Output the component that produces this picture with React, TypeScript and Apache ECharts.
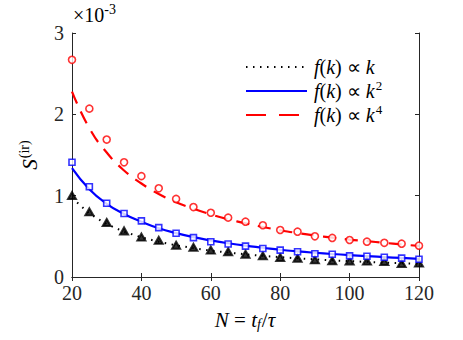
import React, { useEffect, useRef } from "react";
import * as echarts from "echarts";

const nValues = [20, 25, 30, 35, 40, 45, 50, 55, 60, 65, 70, 75, 80, 85, 90, 95, 100, 105, 110, 115, 120];
// scaled by 1e-3
const circlesK4 = [2.67, 2.07, 1.69, 1.41, 1.24, 1.09, 0.96, 0.86, 0.79, 0.73, 0.68, 0.636, 0.578, 0.557, 0.5, 0.48, 0.455, 0.434, 0.42, 0.41, 0.385];
const squaresK2 = [1.41, 1.11, 0.906, 0.78, 0.69, 0.607, 0.537, 0.484, 0.434, 0.406, 0.38, 0.35, 0.33, 0.31, 0.285, 0.28, 0.26, 0.256, 0.242, 0.232, 0.218];
const trianglesK = [1.0, 0.8, 0.67, 0.566, 0.49, 0.45, 0.39, 0.365, 0.33, 0.31, 0.28, 0.26, 0.24, 0.23, 0.21, 0.2, 0.197, 0.195, 0.19, 0.165, 0.17];
const lineK = [0.975, 0.78, 0.65, 0.557, 0.488, 0.433, 0.39, 0.355, 0.325, 0.3, 0.279, 0.26, 0.244, 0.229, 0.217, 0.205, 0.195, 0.186, 0.177, 0.17, 0.163];
const lineK2 = [1.34, 1.08, 0.9, 0.775, 0.68, 0.6, 0.54, 0.49, 0.45, 0.415, 0.385, 0.36, 0.335, 0.315, 0.298, 0.283, 0.27, 0.256, 0.245, 0.234, 0.224];
const lineK4 = [2.28, 1.83, 1.53, 1.31, 1.15, 1.02, 0.92, 0.84, 0.77, 0.71, 0.66, 0.615, 0.575, 0.54, 0.51, 0.485, 0.46, 0.44, 0.42, 0.4, 0.382];

const legendLabels = ["f(k) ∝ k", "f(k) ∝ k²", "f(k) ∝ k⁴"];

const SERIF = "Liberation Serif";
const AXIS = "#262626";

function pairs(ys: number[]) {
  return nValues.map((x, i) => [x, ys[i]]);
}

export default function App() {
  const ref = useRef<HTMLDivElement>(null);
  useEffect(() => {
    document.body.style.margin = "0";
    if (!ref.current) return;
    const chart = echarts.init(ref.current, undefined, { renderer: "svg" });
    const axisCommon = {
      axisLine: { show: true, lineStyle: { color: AXIS, width: 1 } },
      axisTick: { show: true, inside: true, length: 4, lineStyle: { color: AXIS } },
      splitLine: { show: false },
    };
    const legendRich = {
      it: { fontFamily: SERIF, fontStyle: "italic", fontSize: 20, color: "#000" },
      n: { fontFamily: SERIF, fontSize: 20, color: "#000" },
    };
    const mkLegendText = (label: string) => {
      const sup = label.endsWith("²") ? "2" : label.endsWith("⁴") ? "4" : "";
      return { text: "{it|f}{n|(}{it|k}{n|) ∝ }{it|k}" + (sup ? "{sup|" + sup + "}" : ""), sup };
    };
    const legendY = [67, 91, 115];
    const legendGraphics: any[] = [];
    const lineStyles = [
      { stroke: "#000", lineWidth: 2, lineDash: [1.5, 5.5] },
      { stroke: "#0000ff", lineWidth: 2.2 },
      { stroke: "#ff0000", lineWidth: 2.2, lineDash: [20, 13] },
    ];
    legendLabels.forEach((lab, i) => {
      legendGraphics.push({
        type: "line",
        shape: { x1: 246, y1: legendY[i], x2: 307, y2: legendY[i] },
        style: lineStyles[i],
        silent: true,
      });
      const t = mkLegendText(lab);
      legendGraphics.push({
        type: "text",
        x: 314,
        y: legendY[i],
        style: {
          text: t.text,
          verticalAlign: "middle",
          fontFamily: SERIF,
          rich: {
            ...legendRich,
            sup: { fontFamily: SERIF, fontSize: 13, color: "#000", padding: [0, 0, 12, 1] },
          },
        },
        silent: true,
      });
    });

    chart.setOption({
      animation: false,
      textStyle: { fontFamily: SERIF },
      grid: { left: 72, right: 44, top: 33, bottom: 63, containLabel: false },
      xAxis: [
        {
          type: "value",
          min: 20,
          max: 120,
          interval: 20,
          position: "bottom",
          ...axisCommon,
          axisLabel: { fontFamily: SERIF, fontSize: 20, color: AXIS, margin: 6 },
        },
        {
          type: "value",
          min: 20,
          max: 120,
          interval: 20,
          position: "top",
          ...axisCommon,
          axisLabel: { show: false },
        },
      ],
      yAxis: [
        {
          type: "value",
          min: 0,
          max: 3,
          interval: 1,
          position: "left",
          ...axisCommon,
          axisLabel: { fontFamily: SERIF, fontSize: 20, color: AXIS, margin: 8 },
        },
        {
          type: "value",
          min: 0,
          max: 3,
          interval: 1,
          position: "right",
          ...axisCommon,
          axisLabel: { show: false },
        },
      ],
      series: [
        {
          type: "line",
          data: pairs(lineK),
          showSymbol: false,
          lineStyle: { color: "#000", width: 2, type: [1.5, 5.5] },
          z: 2,
        },
        {
          type: "line",
          data: pairs(lineK2),
          showSymbol: false,
          smooth: true,
          lineStyle: { color: "#0000ff", width: 2.2 },
          z: 2,
        },
        {
          type: "line",
          data: pairs(lineK4),
          showSymbol: false,
          smooth: true,
          lineStyle: { color: "#ff0000", width: 2.2, type: [13, 9] },
          z: 2,
        },
        {
          type: "scatter",
          data: pairs(trianglesK),
          symbol: "triangle",
          symbolSize: [8, 7],
          itemStyle: { color: "#000", borderColor: "#000", borderWidth: 2 },
          z: 3,
        },
        {
          type: "scatter",
          data: pairs(squaresK2),
          symbol: "rect",
          symbolSize: 6,
          itemStyle: { color: "#fff", borderColor: "#0000ff", borderWidth: 1.6 },
          z: 3,
        },
        {
          type: "scatter",
          data: pairs(circlesK4),
          symbol: "circle",
          symbolSize: 7,
          itemStyle: { color: "#fff", borderColor: "#ff0000", borderWidth: 1.6 },
          z: 3,
        },
      ],
      graphic: [
        ...legendGraphics,
        {
          type: "text",
          x: 73,
          y: 28,
          style: {
            text: "{n|×10}{sup|-3}",
            verticalAlign: "bottom",
            fontFamily: SERIF,
            rich: {
              n: { fontFamily: SERIF, fontSize: 20, color: AXIS },
              sup: { fontFamily: SERIF, fontSize: 14, color: AXIS, padding: [0, 0, 12, 0] },
            },
          },
          silent: true,
        },
        {
          type: "text",
          x: 30,
          y: 155,
          rotation: Math.PI / 2,
          style: {
            text: "{s|S}{sup|(ir)}",
            align: "center",
            verticalAlign: "middle",
            fontFamily: SERIF,
            rich: {
              s: { fontFamily: SERIF, fontStyle: "italic", fontSize: 21, color: AXIS },
              sup: { fontFamily: SERIF, fontSize: 14, color: AXIS, padding: [0, 0, 12, 1] },
            },
          },
          silent: true,
        },
        {
          type: "text",
          x: 245,
          y: 320,
          style: {
            text: "{it|N}{n| = }{it|t}{sub|f}{n|/}{it|τ}",
            align: "center",
            verticalAlign: "middle",
            fontFamily: SERIF,
            rich: {
              it: { fontFamily: SERIF, fontStyle: "italic", fontSize: 21, color: AXIS },
              n: { fontFamily: SERIF, fontSize: 21, color: AXIS },
              sub: { fontFamily: SERIF, fontStyle: "italic", fontSize: 14, color: AXIS, padding: [8, 1, 0, 0] },
            },
          },
          silent: true,
        },
      ],
    });
    return () => chart.dispose();
  }, []);
  return <div ref={ref} style={{ width: 463, height: 340 }} />;
}
